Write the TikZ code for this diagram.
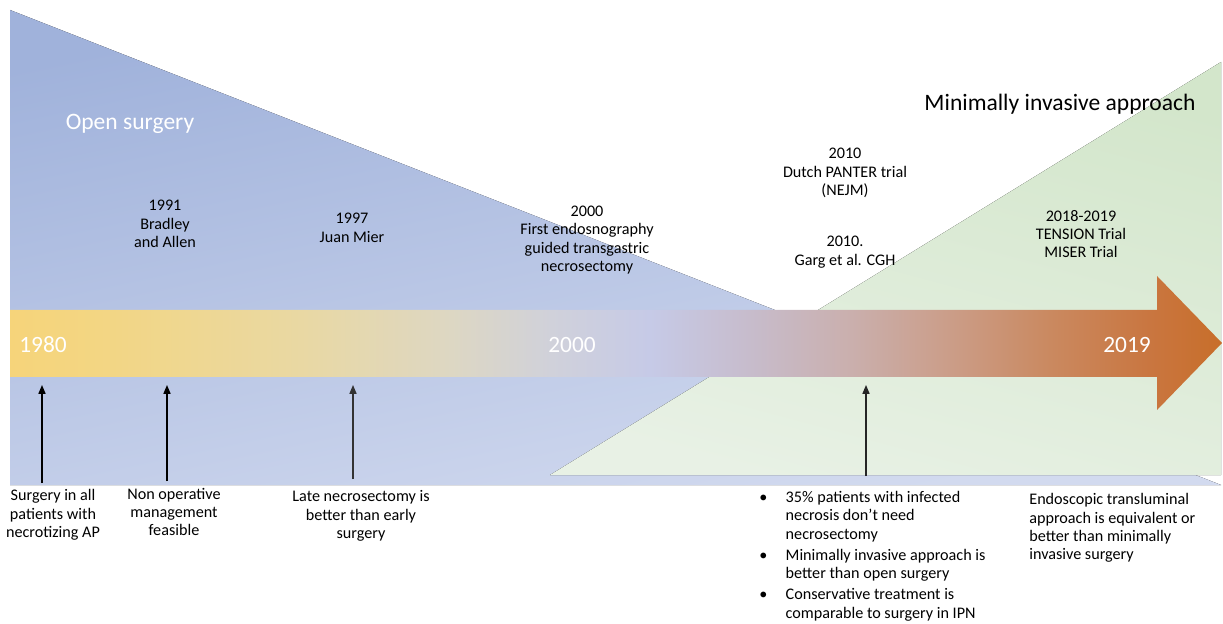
\documentclass[tikz,border=0pt]{standalone}
\usepackage{fontspec}
\setmainfont{Carlito}
\usetikzlibrary{arrows.meta}
\definecolor{blueTop}{HTML}{A0B2DB}
\definecolor{blueBot}{HTML}{D2DAEF}
\definecolor{greenTop}{HTML}{D3E6CB}
\definecolor{greenBot}{HTML}{E8F1E5}
\definecolor{tlA}{HTML}{F6D47A}
\definecolor{tlB}{HTML}{F3D683}
\definecolor{tlC}{HTML}{E9D8A3}
\definecolor{tlD}{HTML}{DDD7C3}
\definecolor{tlE}{HTML}{D0D1DA}
\definecolor{tlF}{HTML}{C6CAE7}
\definecolor{tlG}{HTML}{C7BCCC}
\definecolor{tlH}{HTML}{CAAFAD}
\definecolor{tlI}{HTML}{CB9D88}
\definecolor{tlJ}{HTML}{CA8960}
\definecolor{tlK}{HTML}{C97640}
\definecolor{tlL}{HTML}{C86E2A}
\pgfdeclarehorizontalshading{timeline}{100bp}{color(0bp)=(tlA); color(25bp)=(tlA);
  color(28.7bp)=(tlB); color(37bp)=(tlC); color(43.2bp)=(tlD); color(47.3bp)=(tlE);
  color(51.4bp)=(tlF); color(55.5bp)=(tlG); color(59.7bp)=(tlH); color(63.8bp)=(tlI);
  color(67.9bp)=(tlJ); color(72bp)=(tlK); color(75bp)=(tlL); color(100bp)=(tlL)}
\begin{document}
\begin{tikzpicture}[x=0.02cm,y=-0.02cm,
note/.style={font=\fontsize{9.2}{10.5}\selectfont,align=center,inner sep=0pt},
year/.style={font=\fontsize{13.3}{15}\selectfont,text=white},
era/.style={font=\fontsize{13.4}{15}\selectfont},
evt/.style={-{Triangle[length=5pt,width=4pt]},line width=0.7pt}
]
\useasboundingbox (0,0) rectangle (1223,624);
% background wedges
\fill[top color=blueTop,bottom color=blueBot,shading angle=12] (10,10) -- (10,485) -- (1221,485) -- cycle;
\fill[top color=greenTop,bottom color=greenBot,shading angle=-15] (550,475) -- (1221,475) -- (1221,62) -- cycle;
% time line
\shade[shading=timeline] (10,310) -- (1157,310) -- (1157,276) -- (1222,343)
  -- (1157,410) -- (1157,377) -- (10,377) -- cycle;
\node[year] (y1980) at (43,345) {1980};
\node[year] (y2000) at (572,345) {2000};
\node[year] (y2019) at (1127,345) {2019};
\node[era,text=white] (open) at (130,124) {Open surgery};
\node[era] (mini) at (1060,104) {Minimally invasive approach};
% events above
\node[note] (e1991) at (165,224) {1991\\Bradley\\and Allen};
\node[note] (e1997) at (352,228) {1997\\Juan Mier};
\node[note] (e2000) at (587,240) {2000\\First endosnography\\guided transgastric\\necrosectomy};
\node[note] (e2010) at (845,208) {2010\\Dutch PANTER trial\\(NEJM)\\[18.5pt]2010.\\Garg et al. CGH};
\node[note] (e2018) at (1081,234) {2018-2019\\TENSION Trial\\MISER Trial};
% findings below
\node[note] (f1) at (53,515) {Surgery in all\\patients with\\necrotizing AP};
\node[note] (f2) at (174,512) {Non operative\\management\\feasible};
\node[note] (f3) at (361,516) {Late necrosectomy is\\better than early\\surgery};
\node[note,anchor=north west] (f4) at (759,489) {\begin{tabular}{@{}p{15pt}@{}l@{}}
\textbullet & 35\% patients with infected\\
 & necrosis don’t need\\
 & necrosectomy\\[1.5pt]
\textbullet & Minimally invasive approach is\\
 & better than open surgery\\[1.5pt]
\textbullet & Conservative treatment is\\
 & comparable to surgery in IPN
\end{tabular}};
\node[note,align=left,anchor=north west] (f5) at (1029,493) {Endoscopic transluminal\\approach is equivalent or\\better than minimally\\invasive surgery};
% pointers
\coordinate (a0) at (42,483);  \coordinate (a1) at (42,385);
\coordinate (b0) at (167,481); \coordinate (b1) at (167,385);
\coordinate (c0) at (353,479); \coordinate (c1) at (353,385);
\coordinate (d0) at (866,476); \coordinate (d1) at (866,385);
\draw[evt] (a0) -- (a1);
\draw[evt] (b0) -- (b1);
\draw[evt,black!80] (c0) -- (c1);
\draw[evt,black!85] (d0) -- (d1);
\end{tikzpicture}
\end{document}
